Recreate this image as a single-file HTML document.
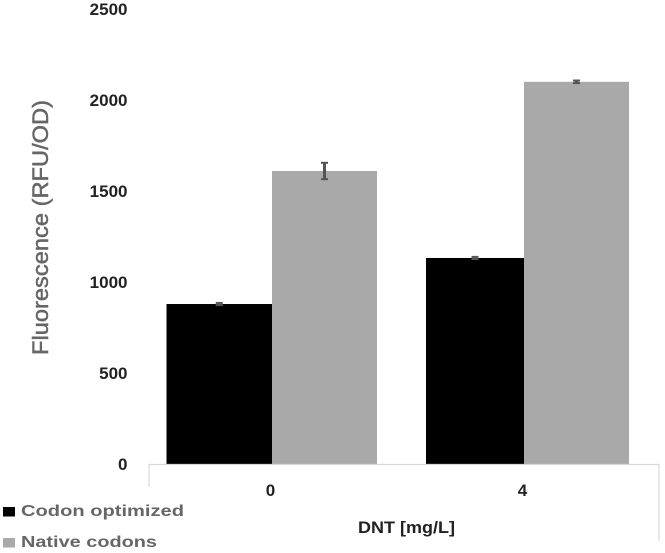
<!DOCTYPE html>
<html lang="en">
<head>
<meta charset="utf-8">
<title>Fluorescence by DNT concentration</title>
<style>
html,body{margin:0;padding:0;background:#fff;width:665px;height:553px;overflow:hidden}
svg{display:block;filter:blur(0.35px)}
text{font-family:"Liberation Sans",sans-serif}
</style>
</head>
<body>
<svg id="chart" xmlns="http://www.w3.org/2000/svg" width="665" height="553" viewBox="0 0 665 553"></svg>
<script>
const categories = ['0', '4'];
const codonOptimized = [879, 1132];
const nativeCodons = [1610, 2100];
const codonOptimizedError = [6, 6];
const nativeCodonsError = [45, 7];
const yTickLabels = [0, 500, 1000, 1500, 2000, 2500];

const NS = 'http://www.w3.org/2000/svg';
const svg = document.getElementById('chart');

function yScale(v) { return 464 - v * 0.182; }
function barStart(i) { return 166.5 + 259.5 * i; }
function barMiddle(i) { return 272 + 252 * i; }
function barEnd(i) { return 377 + 252 * i; }
function tickLabelX(i) { return 270.5 + 252 * i; }

function make(tag, attrs, text) {
  const el = document.createElementNS(NS, tag);
  for (const k in attrs) el.setAttribute(k, attrs[k]);
  if (text !== undefined) el.textContent = text;
  svg.appendChild(el);
  return el;
}

function errorBar(cx, value, err, name) {
  const top = yScale(value + err);
  const bottom = yScale(value - err);
  const stem = make('line', {x1: cx, x2: cx, y1: top, y2: bottom, stroke: '#555', 'stroke-width': 3});
  
  
  const capTop = make('line', {x1: cx - 3.5, x2: cx + 3.5, y1: top, y2: top, stroke: '#555', 'stroke-width': 2});
  
  
  const capBottom = make('line', {x1: cx - 3.5, x2: cx + 3.5, y1: bottom, y2: bottom, stroke: '#555', 'stroke-width': 2});
  
  
}

yTickLabels.forEach(function (v) {
  const t = make('text', {x: 127.5, y: yScale(v) + 6, 'text-anchor': 'end', 'font-size': 17, 'font-weight': 700, fill: '#222'}, String(v));
  
  
});

categories.forEach(function (c, i) {
  const a = make('rect', {
    x: barStart(i), y: yScale(codonOptimized[i]),
    width: barMiddle(i) - barStart(i), height: 464 - yScale(codonOptimized[i]), fill: '#000'
  });
  
  
  const b = make('rect', {
    x: barMiddle(i), y: yScale(nativeCodons[i]),
    width: barEnd(i) - barMiddle(i), height: 464 - yScale(nativeCodons[i]), fill: '#a9a9a9'
  });
  
  
  errorBar((barStart(i) + barMiddle(i)) / 2, codonOptimized[i], codonOptimizedError[i], 'error-codon-optimized-' + c);
  errorBar((barMiddle(i) + barEnd(i)) / 2, nativeCodons[i], nativeCodonsError[i], 'error-native-codons-' + c);
  const t = make('text', {x: tickLabelX(i), y: 496, 'text-anchor': 'middle', 'font-size': 17, 'font-weight': 700, fill: '#222'}, c);
  
  
});
</script>
<script>
(function () {
  const svgEl = document.getElementById('chart');
  const markup =
    '<path d="M149 487V464.5H659V541" fill="none" stroke="#d9d9d9" stroke-width="1.2"/>' +
    '<text transform="translate(48,355) rotate(-90)" font-size="22" font-weight="400" fill="#666" stroke="#666" stroke-width="0.5" textLength="255" lengthAdjust="spacingAndGlyphs">Fluorescence (RFU/OD)</text>' +
    '<text x="358" y="533" font-size="16.5" font-weight="700" fill="#222" textLength="97" lengthAdjust="spacingAndGlyphs">DNT [mg/L]</text>' +
    '<rect x="3" y="507" width="12" height="9.5" fill="#000"/>' +
    '<text x="21" y="516" font-size="16" font-weight="700" fill="#666" textLength="163" lengthAdjust="spacingAndGlyphs">Codon optimized</text>' +
    '<rect x="3" y="538" width="12" height="9.5" fill="#a9a9a9"/>' +
    '<text x="21" y="547" font-size="16" font-weight="700" fill="#666" textLength="136" lengthAdjust="spacingAndGlyphs">Native codons</text>';
  svgEl.insertAdjacentHTML('beforeend', markup);
})();
</script>
</body>
</html>
